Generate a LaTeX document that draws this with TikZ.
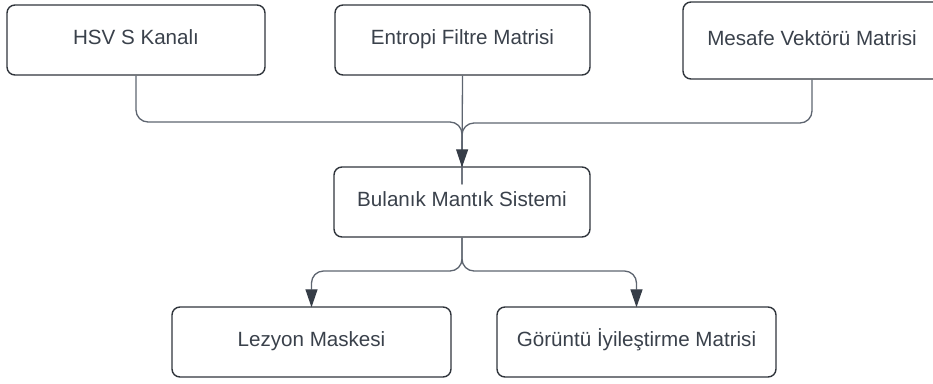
\documentclass[tikz,border=0pt]{standalone}
\usepackage{fontspec}
\setmainfont{Liberation Sans}
\usetikzlibrary{arrows.meta}

\definecolor{boxline}{HTML}{30353C}
\definecolor{txt}{HTML}{3A414B}
\definecolor{wire}{HTML}{5E6570}
\definecolor{tipfill}{HTML}{363D47}

\begin{document}
\begin{tikzpicture}[x=1bp,y=-1bp,
  blk/.style={draw=boxline, line width=1.4bp, rounded corners=8bp, fill=white,
    text=txt, font=\fontsize{20.6bp}{24bp}\selectfont, inner sep=0pt,
    text height=15bp, text depth=6bp, minimum width=#1},
  blk/.default=258bp,
  wirel/.style={draw=wire, line width=1.3bp, rounded corners=12bp},
  flow/.style={wirel, -{Triangle[length=18bp,width=12bp,fill=tipfill,color=tipfill]}}
]
\clip (0,0) rectangle (933,383);
\useasboundingbox (0,0) rectangle (933,383);

% source blocks
\node[blk, minimum height=70bp] (hsv) at (136,40) {HSV S Kanalı};
\node[blk=255bp, minimum height=70bp] (ent) at (462.5,40) {Entropi Filtre Matrisi};
\node[blk, minimum height=77bp] (mes) at (812,40.5) {Mesafe Vektörü Matrisi};

% fuzzy logic block
\node[blk=256bp, minimum height=70bp] (bul) at (462,202) {Bulanık Mantık Sistemi};

% outputs
\node[blk=279bp, minimum height=70bp] (lez) at (311.5,342) {Lezyon Maskesi};
\node[blk=279bp, minimum height=70bp] (gor) at (636.5,342) {Görüntü İyileştirme Matrisi};

% merging inputs
\coordinate (jl) at (hsv.south |- 0,122);
\coordinate (jr) at (812,123);
\draw[wirel] (hsv.south) -- (jl) -- (jl -| bul.north) -- ([yshift=-18bp]bul.north);
\draw[wirel] (mes.south -| jr) -- (jr) -- (jr -| bul.north) -- ([yshift=-18bp]bul.north);
\draw[flow] (ent.south) -- ([yshift=-1bp]bul.north);

% splitting outputs
\coordinate (sp) at (462,271);
\draw[flow] (bul.south) -- (sp) -- (sp -| lez.north) -- ([yshift=-1bp]lez.north);
\draw[flow] (bul.south) -- (sp) -- (sp -| gor.north) -- ([yshift=-1bp]gor.north);
\end{tikzpicture}
\end{document}
